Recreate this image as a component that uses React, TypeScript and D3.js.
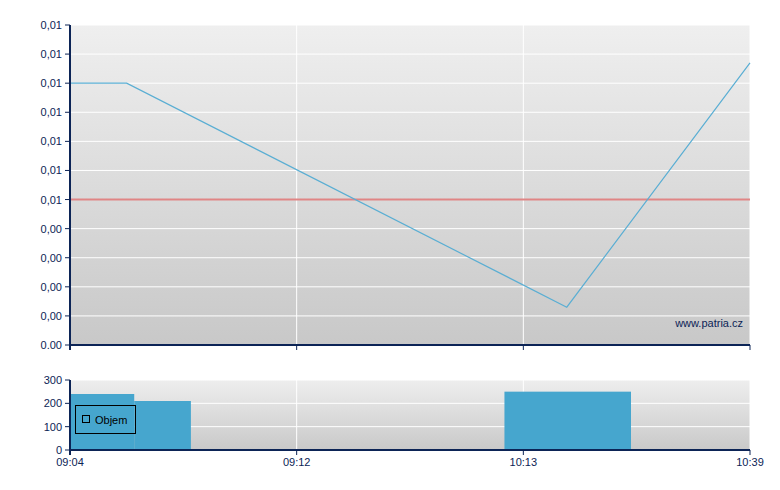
import React from "react"
import * as d3 from "d3"

// price series (x in index units, 0..36 maps to 09:04..10:39)
const priceX = [0, 3, 26.3, 36]
const priceY = [0.009, 0.009, 0.0013, 0.0097]
const refPrice = 0.005

// volume bars: [start, end, value]
const volStart = [0, 3.4, 23]
const volEnd = [3.4, 6.4, 29.7]
const volValue = [240, 210, 250]

const timeTicks = [0, 12, 24, 36]
const timeLabels = ["09:04", "09:12", "10:13", "10:39"]

const priceTicks = d3.range(0, 0.0111, 0.001)
const volTicks = [0, 100, 200, 300]

const W = 780
const H = 490
const left = 70
const right = 750
const top1 = 25
const bottom1 = 345
const top2 = 380
const bottom2 = 450

const axisColor = "#0c2456"
const font = "'Liberation Sans', Arial, sans-serif"

function fmtPrice(v: number, i: number) {
  if (i === 0) return "0.00"
  return (Math.round(v * 1000) / 1000 >= 0.005 ? "0,01" : "0,00")
}

export default function App() {
  const x = d3.scaleLinear().domain([0, 36]).range([left, right])
  const y = d3.scaleLinear().domain([0, 0.011]).range([bottom1, top1])
  const yv = d3.scaleLinear().domain([0, 300]).range([bottom2, top2])

  const line = d3
    .line<number>()
    .x((d, i) => x(priceX[i]))
    .y((d) => y(d))

  return (
    <svg
      width={W}
      height={H}
      style={{ position: "absolute", left: 0, top: 0, background: "#fff" }}
      fontFamily={font}
    >
      <defs>
        <linearGradient id="bg1" x1="0" y1="0" x2="0" y2="1">
          <stop offset="0" stopColor="#efefef" />
          <stop offset="1" stopColor="#c8c8c8" />
        </linearGradient>
        <linearGradient id="bg2" x1="0" y1="0" x2="0" y2="1">
          <stop offset="0" stopColor="#eeeeee" />
          <stop offset="1" stopColor="#c9c9c9" />
        </linearGradient>
      </defs>

      {/* price panel */}
      <rect x={left} y={top1} width={right - left} height={bottom1 - top1} fill="url(#bg1)" />
      {priceTicks.map((t, i) => (
        <line key={"pg" + i} x1={left} x2={right} y1={y(t)} y2={y(t)} stroke="#fff" strokeWidth={1} />
      ))}
      {timeTicks.map((t, i) => (
        <line key={"vg" + i} x1={x(t)} x2={x(t)} y1={top1} y2={bottom1} stroke="#fff" strokeWidth={1} />
      ))}
      <line x1={left} x2={right} y1={y(refPrice)} y2={y(refPrice)} stroke="#e08585" strokeWidth={2} />
      <path d={line(priceY) || ""} fill="none" stroke="#5aaed3" strokeWidth={1.2} />
      <text x={743} y={327} fontSize={11} fill={axisColor} textAnchor="end">
        www.patria.cz
      </text>

      {/* price axes */}
      <line x1={left} x2={left} y1={top1} y2={bottom1 + 5} stroke={axisColor} strokeWidth={2} />
      <line x1={left} x2={right} y1={bottom1} y2={bottom1} stroke={axisColor} strokeWidth={2} />
      {priceTicks.map((t, i) => (
        <g key={"pt" + i}>
          <line x1={left - 5} x2={left} y1={y(t)} y2={y(t)} stroke={axisColor} strokeWidth={1} />
          <text x={62} y={y(t) + 4} fontSize={11} fill={axisColor} textAnchor="end">
            {fmtPrice(t, i)}
          </text>
        </g>
      ))}
      {timeTicks.map((t, i) => (
        <line key={"xt1" + i} x1={x(t)} x2={x(t)} y1={bottom1} y2={bottom1 + 5} stroke={axisColor} strokeWidth={1} />
      ))}

      {/* volume panel */}
      <rect x={left} y={top2} width={right - left} height={bottom2 - top2} fill="url(#bg2)" />
      {volTicks.map((t, i) => (
        <line key={"vgl" + i} x1={left} x2={right} y1={yv(t)} y2={yv(t)} stroke="#fff" strokeWidth={1} />
      ))}
      {timeTicks.map((t, i) => (
        <line key={"vgx" + i} x1={x(t)} x2={x(t)} y1={top2} y2={bottom2} stroke="#fff" strokeWidth={1} />
      ))}
      {volValue.map((v, i) => (
        <rect
          key={"vb" + i}
          x={x(volStart[i])}
          y={yv(v)}
          width={x(volEnd[i]) - x(volStart[i])}
          height={yv(0) - yv(v)}
          fill="#46a6ce"
        />
      ))}
      <line x1={left} x2={left} y1={top2} y2={bottom2 + 5} stroke={axisColor} strokeWidth={2} />
      <line x1={left} x2={right} y1={bottom2} y2={bottom2} stroke={axisColor} strokeWidth={2} />
      {volTicks.map((t, i) => (
        <g key={"vt" + i}>
          <line x1={left - 5} x2={left} y1={yv(t)} y2={yv(t)} stroke={axisColor} strokeWidth={1} />
          <text x={62} y={yv(t) + 4} fontSize={11} fill={axisColor} textAnchor="end">
            {t}
          </text>
        </g>
      ))}
      {timeTicks.map((t, i) => (
        <g key={"xt2" + i}>
          <line x1={x(t)} x2={x(t)} y1={bottom2} y2={bottom2 + 5} stroke={axisColor} strokeWidth={1} />
          <text x={x(t)} y={bottom2 + 16} fontSize={11} fill={axisColor} textAnchor="middle">
            {timeLabels[i]}
          </text>
        </g>
      ))}

      {/* legend */}
      <rect x={75.5} y={405.5} width={60} height={28} fill="none" stroke="#000" strokeWidth={1} />
      <rect x={82.5} y={415.5} width={7} height={7} fill="none" stroke="#000" strokeWidth={1} />
      <text x={95} y={423.5} fontSize={11} fill="#000">
        Objem
      </text>
    </svg>
  )
}
